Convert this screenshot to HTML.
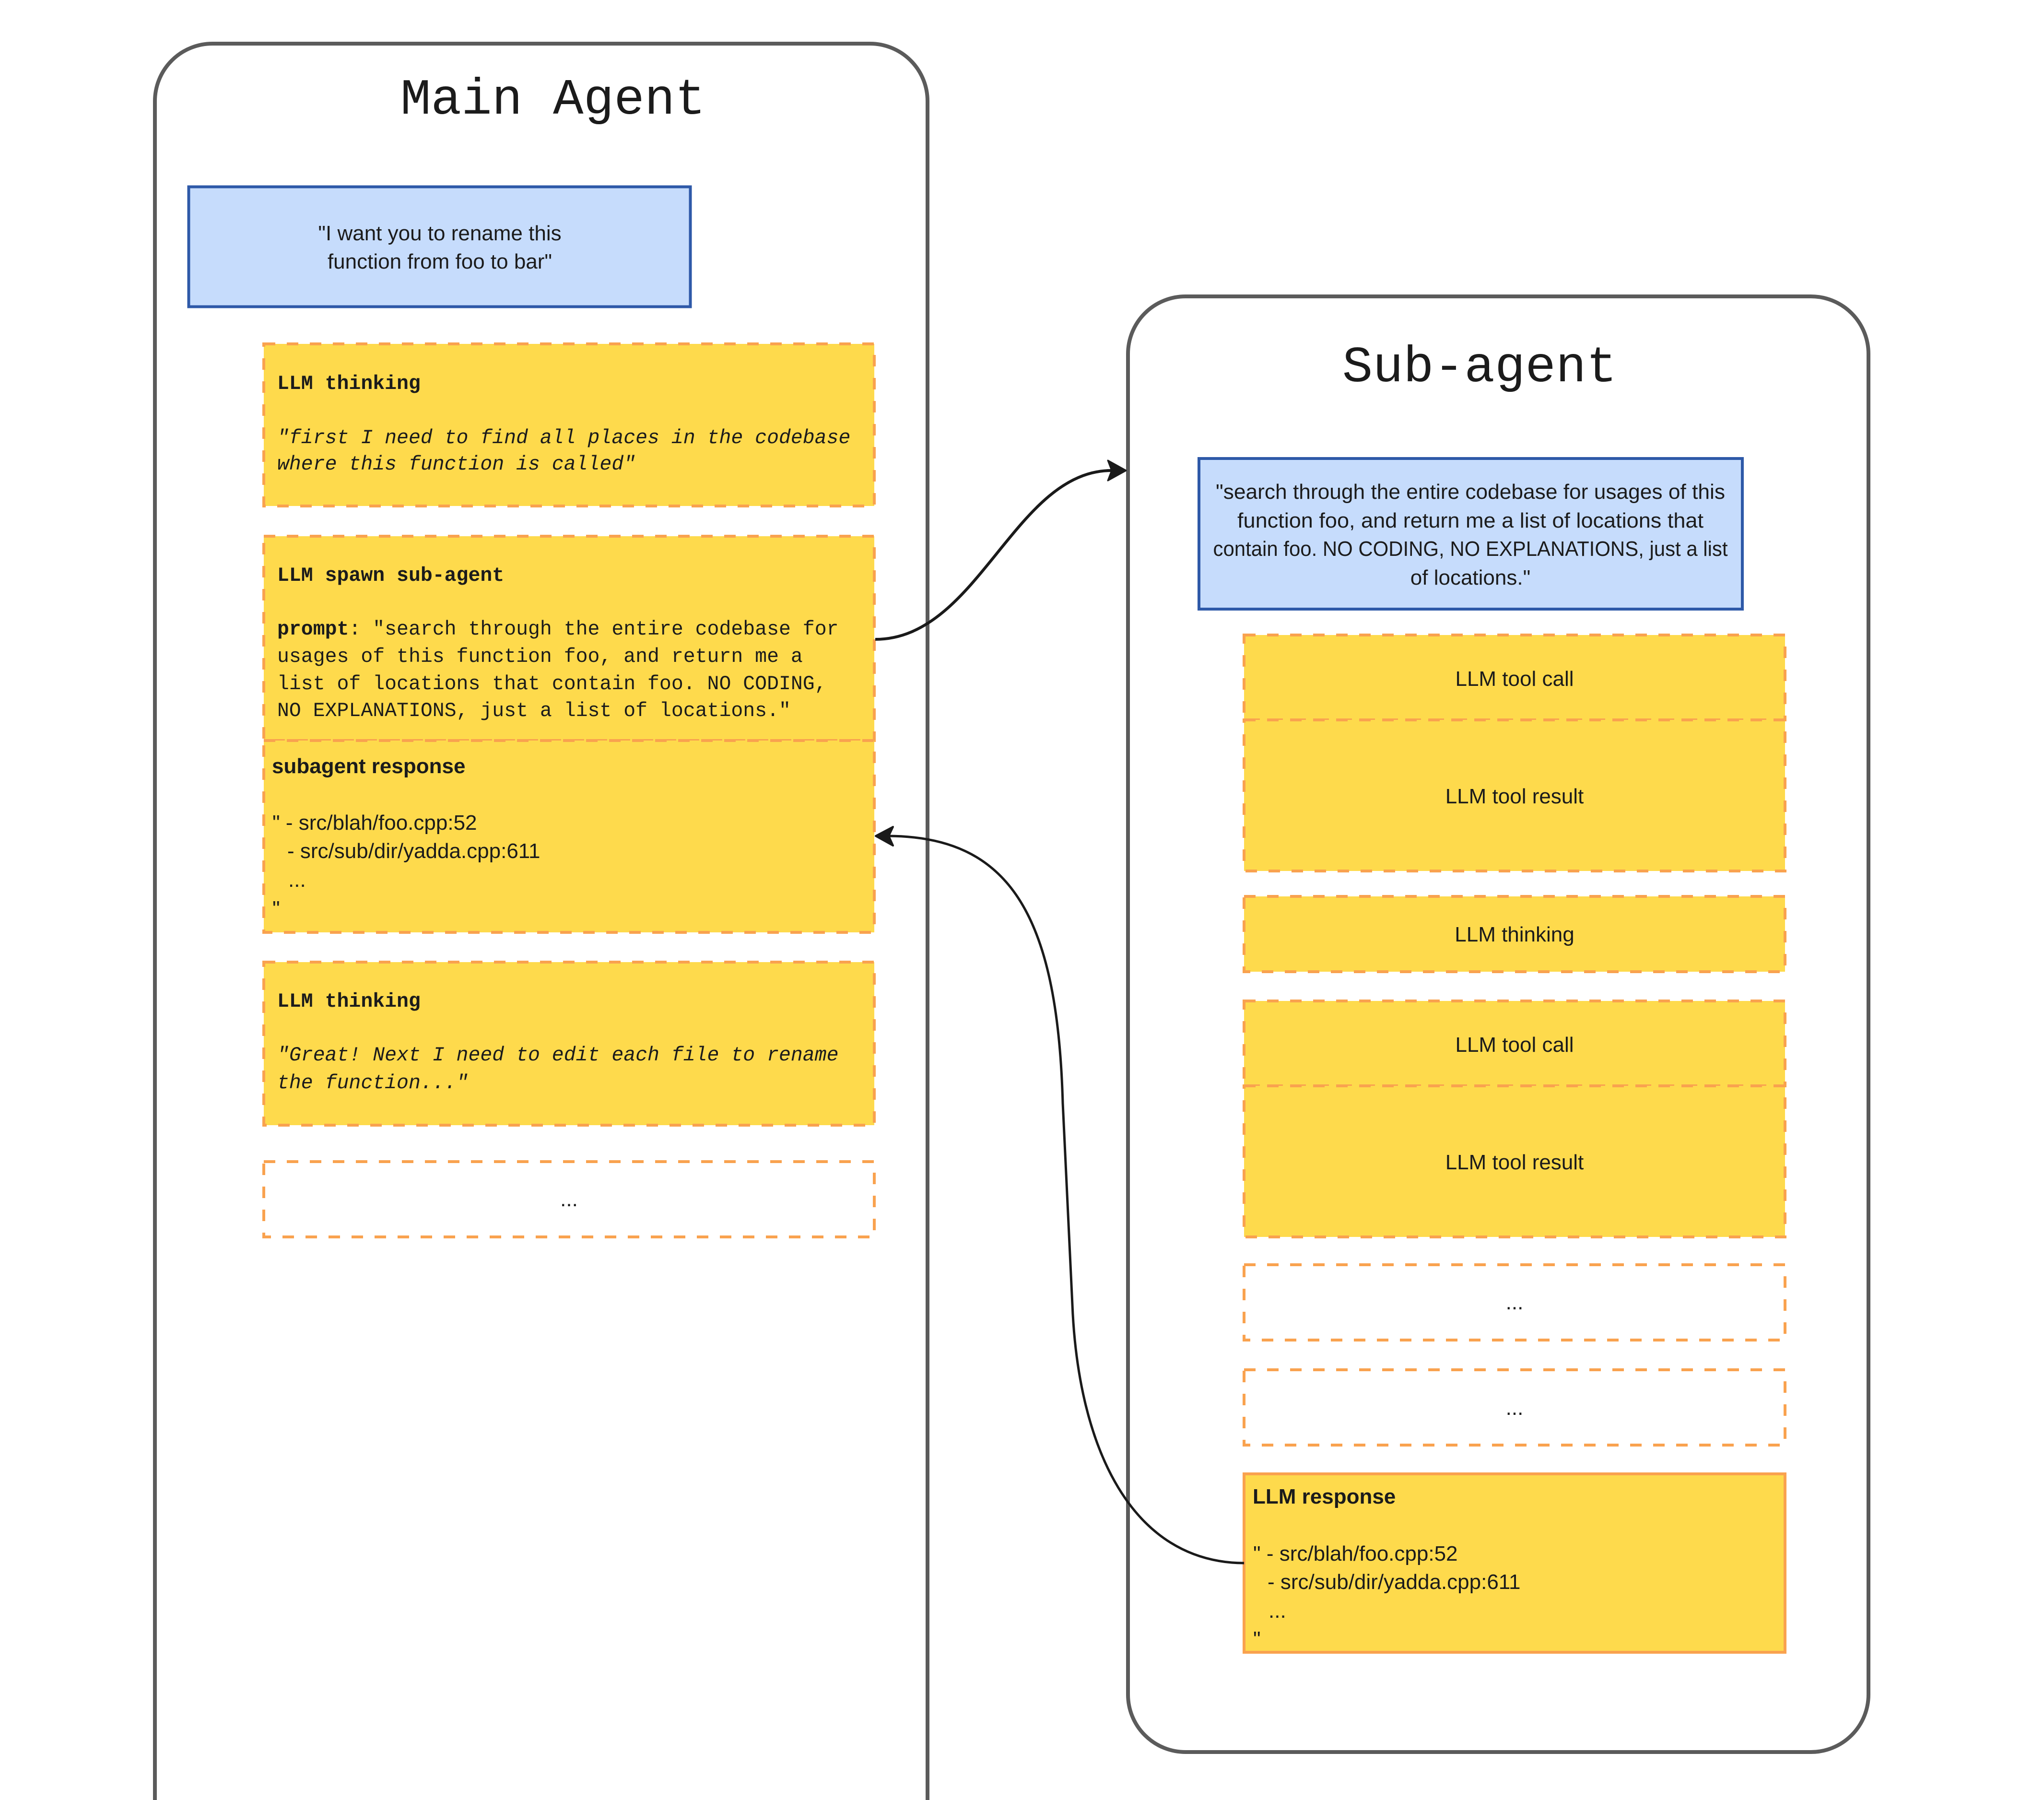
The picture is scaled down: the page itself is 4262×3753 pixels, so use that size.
<!DOCTYPE html>
<html>
<head>
<meta charset="utf-8">
<style>
  html, body { margin: 0; padding: 0; background: #ffffff; }
  svg { display: block; }
  .mono { font-family: "Liberation Mono", monospace; font-size: 41.5px; fill: #1b1b1b; }
  .sans { font-family: "Liberation Sans", sans-serif; font-size: 44px; fill: #1b1b1b; }
  .title { font-family: "Liberation Mono", monospace; font-size: 106px; fill: #1b1b1b; }
  .b { font-weight: bold; }
  .i { font-style: italic; }
  .dash { fill: #FEDA4C; stroke: #F9A24F; stroke-width: 6; stroke-dasharray: 24 24; }
  .dashw { fill: none; stroke: #F9A24F; stroke-width: 6; stroke-dasharray: 24 24; }
  .blue { fill: #C6DCFC; stroke: #2E59A8; stroke-width: 6; }
</style>
</head>
<body>
<svg width="4262" height="3753" viewBox="0 0 4262 3753" xmlns="http://www.w3.org/2000/svg">
  <rect x="0" y="0" width="4262" height="3753" fill="#ffffff"/>

  <!-- Main Agent container (open at bottom) -->
  <path d="M 323 3780 L 323 211 A 120 120 0 0 1 443 91 L 1814 91 A 120 120 0 0 1 1934 211 L 1934 3780"
        fill="none" stroke="#5b5b5b" stroke-width="8"/>
  <text class="title" x="1153" y="237" text-anchor="middle">Main Agent</text>

  <!-- Sub-agent container -->
  <rect x="2352" y="618" width="1544" height="3035" rx="120" ry="120" fill="none" stroke="#5b5b5b" stroke-width="8"/>
  <text class="title" x="3085" y="795" text-anchor="middle">Sub-agent</text>

  <!-- Main blue box -->
  <rect class="blue" x="393.5" y="389.5" width="1046" height="250"/>
  <text class="sans" x="917" y="501" text-anchor="middle">"I want you to rename this</text>
  <text class="sans" x="917" y="560" text-anchor="middle">function from foo to bar"</text>

  <!-- Main: LLM thinking 1 -->
  <rect class="dash" x="550" y="717" width="1273" height="338"/>
  <text class="mono b" x="578" y="811">LLM thinking</text>
  <text class="mono i" x="578" y="924">"first I need to find all places in the codebase</text>
  <text class="mono i" x="578" y="979">where this function is called"</text>

  <!-- Main: spawn sub-agent -->
  <rect class="dash" x="550" y="1118" width="1273" height="426"/>
  <text class="mono b" x="578" y="1211">LLM spawn sub-agent</text>
  <text class="mono" x="578" y="1323"><tspan class="b">prompt</tspan>: "search through the entire codebase for</text>
  <text class="mono" x="578" y="1380">usages of this function foo, and return me a</text>
  <text class="mono" x="578" y="1437">list of locations that contain foo. NO CODING,</text>
  <text class="mono" x="578" y="1493">NO EXPLANATIONS, just a list of locations."</text>

  <!-- Main: subagent response -->
  <rect class="dash" x="550" y="1544" width="1273" height="400"/>
  <text class="sans b" x="567" y="1612">subagent response</text>
  <text class="sans" x="568" y="1730">" - src/blah/foo.cpp:52</text>
  <text class="sans" x="599" y="1789">- src/sub/dir/yadda.cpp:611</text>
  <text class="sans" x="601" y="1849">...</text>
  <text class="sans" x="568" y="1909">"</text>

  <!-- Main: LLM thinking 2 -->
  <rect class="dash" x="550" y="2006" width="1273" height="340"/>
  <text class="mono b" x="578" y="2099">LLM thinking</text>
  <text class="mono i" x="578" y="2211">"Great! Next I need to edit each file to rename</text>
  <text class="mono i" x="578" y="2269">the function..."</text>

  <!-- Main: dots -->
  <rect class="dashw" x="550" y="2422" width="1273" height="157"/>
  <text class="sans" x="1186.5" y="2515" text-anchor="middle">...</text>

  <!-- Sub blue box -->
  <rect class="blue" x="2500" y="956" width="1133" height="314"/>
  <text class="sans" x="3066" y="1040" text-anchor="middle" textLength="1062" lengthAdjust="spacingAndGlyphs">"search through the entire codebase for usages of this</text>
  <text class="sans" x="3066" y="1100" text-anchor="middle" textLength="972" lengthAdjust="spacingAndGlyphs">function foo, and return me a list of locations that</text>
  <text class="sans" x="3066" y="1159" text-anchor="middle" textLength="1073" lengthAdjust="spacingAndGlyphs">contain foo. NO CODING, NO EXPLANATIONS, just a list</text>
  <text class="sans" x="3066" y="1219" text-anchor="middle">of locations."</text>

  <!-- Sub: tool call / result 1 -->
  <rect class="dash" x="2594" y="1324" width="1128" height="177"/>
  <text class="sans" x="3158" y="1430" text-anchor="middle">LLM tool call</text>
  <rect class="dash" x="2594" y="1501" width="1128" height="315"/>
  <text class="sans" x="3158" y="1675" text-anchor="middle">LLM tool result</text>

  <!-- Sub: thinking -->
  <rect class="dash" x="2594" y="1869" width="1128" height="157"/>
  <text class="sans" x="3158" y="1963" text-anchor="middle">LLM thinking</text>

  <!-- Sub: tool call / result 2 -->
  <rect class="dash" x="2594" y="2087" width="1128" height="177"/>
  <text class="sans" x="3158" y="2193" text-anchor="middle">LLM tool call</text>
  <rect class="dash" x="2594" y="2264" width="1128" height="315"/>
  <text class="sans" x="3158" y="2438" text-anchor="middle">LLM tool result</text>

  <!-- Sub: dots -->
  <rect class="dashw" x="2594" y="2637" width="1128" height="157"/>
  <text class="sans" x="3158" y="2730" text-anchor="middle">...</text>
  <rect class="dashw" x="2594" y="2856" width="1128" height="157"/>
  <text class="sans" x="3158" y="2950" text-anchor="middle">...</text>

  <!-- Sub: LLM response (solid) -->
  <rect x="2594" y="3073" width="1128" height="372" fill="#FEDA4C" stroke="#F9A24F" stroke-width="6"/>
  <text class="sans b" x="2612" y="3135">LLM response</text>
  <text class="sans" x="2613" y="3254">" - src/blah/foo.cpp:52</text>
  <text class="sans" x="2643" y="3313">- src/sub/dir/yadda.cpp:611</text>
  <text class="sans" x="2645" y="3373">...</text>
  <text class="sans" x="2613" y="3432">"</text>

  <!-- Arrow 1: spawn -> sub-agent -->
  <path d="M 1825 1333 C 2040 1333, 2115 981, 2318 981" fill="none" stroke="#1a1a1a" stroke-width="6"/>
  <polygon points="2348,981 2310,960 2318,981 2310,1002" fill="#1a1a1a" stroke="#1a1a1a" stroke-width="3" stroke-linejoin="round"/>

  <!-- Arrow 2: LLM response -> subagent response -->
  <path d="M 2594 3259 C 2360 3258, 2248 3020, 2236 2720 L 2216 2300 C 2205 1900, 2100 1744, 1852 1743"
        fill="none" stroke="#1a1a1a" stroke-width="5"/>
  <polygon points="1826,1743 1862,1724 1853,1743 1862,1763" fill="#1a1a1a" stroke="#1a1a1a" stroke-width="4" stroke-linejoin="round"/>
</svg>
</body>
</html>
